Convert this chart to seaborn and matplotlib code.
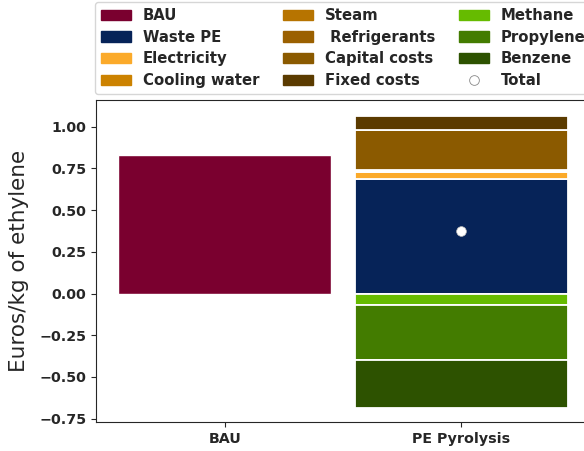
import numpy as np
import pandas as pd
import matplotlib
matplotlib.use("Agg")
import matplotlib.pyplot as plt
import seaborn as sns
from matplotlib.patches import Patch
from matplotlib.lines import Line2D

# data
categories = ["BAU", "PE Pyrolysis"]
bau_value = 0.83

pos_labels = ["Waste PE", "Electricity", "Cooling water", "Steam", " Refrigerants",
              "Capital costs", "Fixed costs"]
pos_values = [0.685, 0.041, 0.005, 0.005, 0.005, 0.242, 0.08]
pos_colors = ["#062358", "#fbaa2a", "#cc8200", "#b77400", "#9b6000", "#8b5a00", "#5b3b00"]

neg_labels = ["Methane", "Propylene", "Benzene"]
neg_values = [-0.068, -0.332, -0.287]
neg_colors = ["#66bb00", "#437c00", "#2d5200"]

bau_color = "#7a002f"


def main():
    sns.set_style("ticks")
    plt.rcParams["font.family"] = ["DejaVu Sans"]

    fig = plt.figure(figsize=(5.84, 4.51), dpi=100)
    ax = fig.add_axes([96 / 584, 29 / 451, 494 / 584, 322 / 451])

    bau_df = pd.DataFrame({"scenario": categories, "cost": [bau_value, np.nan]})
    sns.barplot(data=bau_df, x="scenario", y="cost", color=bau_color, saturation=1,
                width=0.9, ax=ax, order=categories)

    xi = categories.index("PE Pyrolysis")
    bottom = 0.0
    for v, c in zip(pos_values, pos_colors):
        ax.bar(xi, v, bottom=bottom, width=0.9, color=c, edgecolor="white", linewidth=1.3)
        bottom += v
    bottom = 0.0
    for v, c in zip(neg_values, neg_colors):
        ax.bar(xi, v, bottom=bottom, width=0.9, color=c, edgecolor="white", linewidth=1.3)
        bottom += v

    total = sum(pos_values) + sum(neg_values)
    ax.plot(xi, total, "o", color="white", markeredgecolor="#bbbbbb",
            markeredgewidth=0.5, markersize=7, zorder=5)

    ax.set_xlim(-0.545, 1.545)
    ax.set_ylim(-0.77, 1.16)
    ax.set_yticks([-0.75, -0.5, -0.25, 0, 0.25, 0.5, 0.75, 1.0])
    ax.set_xlabel("")
    ax.set_ylabel("Euros/kg of ethylene", fontsize=15.5, labelpad=7)
    for lab in ax.get_xticklabels() + ax.get_yticklabels():
        lab.set_fontweight("bold")
        lab.set_fontsize(10.3)

    handles = [Patch(color=bau_color, label="BAU")]
    handles += [Patch(color=c, label=l) for l, c in zip(pos_labels, pos_colors)]
    handles += [Patch(color=c, label=l) for l, c in zip(neg_labels, neg_colors)]
    handles.append(Line2D([], [], marker="o", linestyle="", color="white",
                          markeredgecolor="#888888", markeredgewidth=0.6,
                          markersize=7, label="Total"))
    ax.legend(handles=handles, ncol=3, loc="upper left",
              bbox_to_anchor=(95 / 584, 1 - 2 / 451), bbox_transform=fig.transFigure,
              prop={"weight": "bold", "size": 10.7}, frameon=True, borderaxespad=0,
              labelspacing=0.45, columnspacing=1.62)

    fig.savefig("out.png", dpi=100)
    plt.close(fig)


if __name__ == "__main__":
    main()
